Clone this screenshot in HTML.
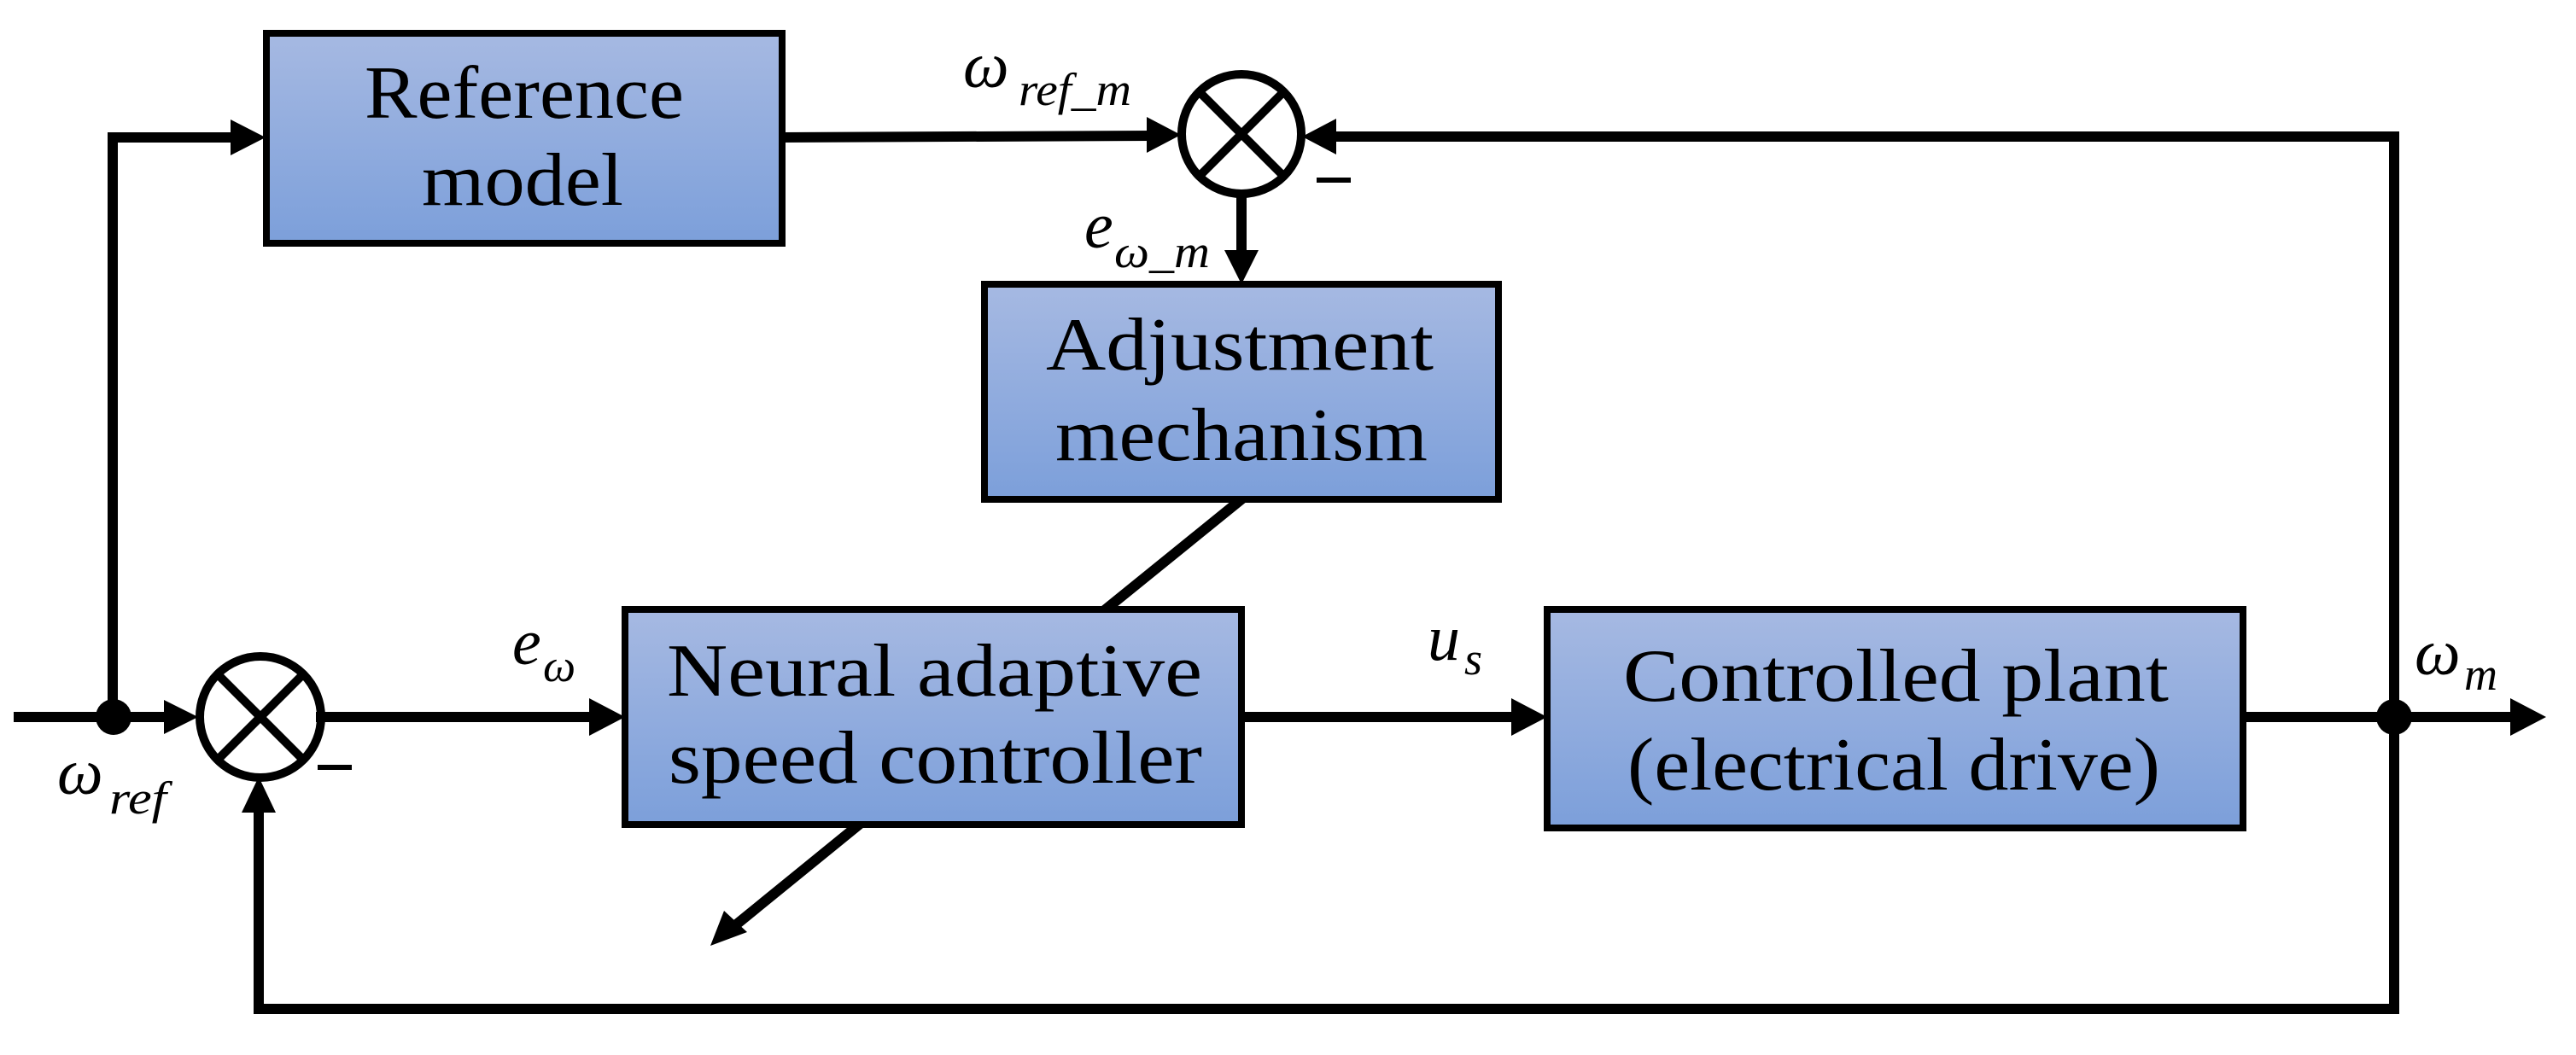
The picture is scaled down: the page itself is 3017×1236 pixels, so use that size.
<!DOCTYPE html>
<html><head><meta charset="utf-8"><style>
html,body{margin:0;padding:0;background:#fff;}
svg{display:block;}
text{font-family:"Liberation Serif",serif;fill:#000;}
.b{font-size:88px;}
.i{font-style:italic;}
</style></head><body>
<svg width="3017" height="1236" viewBox="0 0 3017 1236" xmlns="http://www.w3.org/2000/svg">
<defs>
<linearGradient id="g" x1="0" y1="0" x2="0" y2="1">
<stop offset="0" stop-color="#a6b9e2"/><stop offset="1" stop-color="#7c9fda"/>
</linearGradient>
</defs>
<g stroke="#000" stroke-width="12" fill="none" stroke-linecap="square">
<!-- main line -->
<line x1="22" y1="840" x2="196" y2="840"/>
<line x1="376" y1="840" x2="690" y2="840"/>
<line x1="1454" y1="840" x2="1772" y2="840"/>
<line x1="2627" y1="840" x2="2940" y2="840"/>
<!-- left vertical to ref model -->
<polyline points="132,840 132,161 272,161"/>
<line x1="916" y1="161" x2="1345" y2="159"/>
<!-- top feedback -->
<polyline points="2804,840 2804,160 1562,160"/>
<!-- bottom feedback -->
<polyline points="2804,840 2804,1182 303,1182 303,950"/>
<!-- e_w_m down -->
<line x1="1454" y1="228" x2="1454" y2="295"/>
<!-- diagonal -->
<line x1="1454" y1="585" x2="1296" y2="713"/>
<line x1="1005" y1="967" x2="860" y2="1085"/>
</g>
<!-- arrowheads -->
<g fill="#000">
<polygon points="232,840 192,820 192,860"/>
<polygon points="732,840 690,818 690,862"/>
<polygon points="1812,840 1770,818 1770,862"/>
<polygon points="2982,840 2940,818 2940,862"/>
<polygon points="311,161 270,140 270,182"/>
<polygon points="1383,158 1343,137 1343,179"/>
<polygon points="1525,160 1565,139 1565,181"/>
<polygon points="1454,333 1434,293 1474,293"/>
<polygon points="303,910 283,952 323,952"/>
<polygon points="832,1108 848,1067 875,1092"/>
<circle cx="133" cy="840" r="21"/>
<circle cx="2804" cy="840" r="21"/>
</g>
<!-- summing junctions -->
<g stroke="#000" stroke-width="10" fill="none">
<circle cx="305" cy="840" r="71"/>
<line x1="255" y1="790" x2="355" y2="890"/>
<line x1="355" y1="790" x2="255" y2="890"/>
<circle cx="1454" cy="157" r="70"/>
<line x1="1404" y1="107" x2="1504" y2="207"/>
<line x1="1504" y1="107" x2="1404" y2="207"/>
</g>
<g fill="#000"><rect x="372" y="896" width="40" height="6"/><rect x="1542" y="208" width="40" height="6"/></g>
<!-- boxes -->
<g stroke="#000" stroke-width="8" fill="url(#g)">
<rect x="312" y="39" width="604" height="246"/>
<rect x="1153" y="333" width="602" height="252"/>
<rect x="732" y="714" width="722" height="252"/>
<rect x="1812" y="714" width="815" height="256"/>
</g>
<text class="b" x="427" y="138" textLength="374" lengthAdjust="spacingAndGlyphs">Reference</text>
<text class="b" x="494" y="240" textLength="236" lengthAdjust="spacingAndGlyphs">model</text>
<text class="b" x="1225" y="433" textLength="454" lengthAdjust="spacingAndGlyphs">Adjustment</text>
<text class="b" x="1236" y="539" textLength="436" lengthAdjust="spacingAndGlyphs">mechanism</text>
<text class="b" x="781" y="815" textLength="627" lengthAdjust="spacingAndGlyphs">Neural adaptive</text>
<text class="b" x="783" y="917" textLength="625" lengthAdjust="spacingAndGlyphs">speed controller</text>
<text class="b" x="1901" y="821" textLength="639" lengthAdjust="spacingAndGlyphs">Controlled plant</text>
<text class="b" x="1906" y="925" textLength="624" lengthAdjust="spacingAndGlyphs">(electrical drive)</text>
<!-- labels -->
<g class="i">
<text x="1128" y="102" font-size="76">ω</text>
<text x="1193" y="123" font-size="54" textLength="132" lengthAdjust="spacingAndGlyphs">ref_m</text>
<text x="1270" y="290" font-size="76">e</text>
<text x="1305" y="313" font-size="54" textLength="112" lengthAdjust="spacingAndGlyphs">ω_m</text>
<text x="67" y="930" font-size="76">ω</text>
<text x="128" y="953" font-size="54" textLength="67" lengthAdjust="spacingAndGlyphs">ref</text>
<text x="600" y="778" font-size="76">e</text>
<text x="636" y="798" font-size="54">ω</text>
<text x="1672" y="773" font-size="76">u</text>
<text x="1715" y="790" font-size="54">s</text>
<text x="2828" y="790" font-size="76">ω</text>
<text x="2886" y="808" font-size="54">m</text>
</g>
</svg>
</body></html>
